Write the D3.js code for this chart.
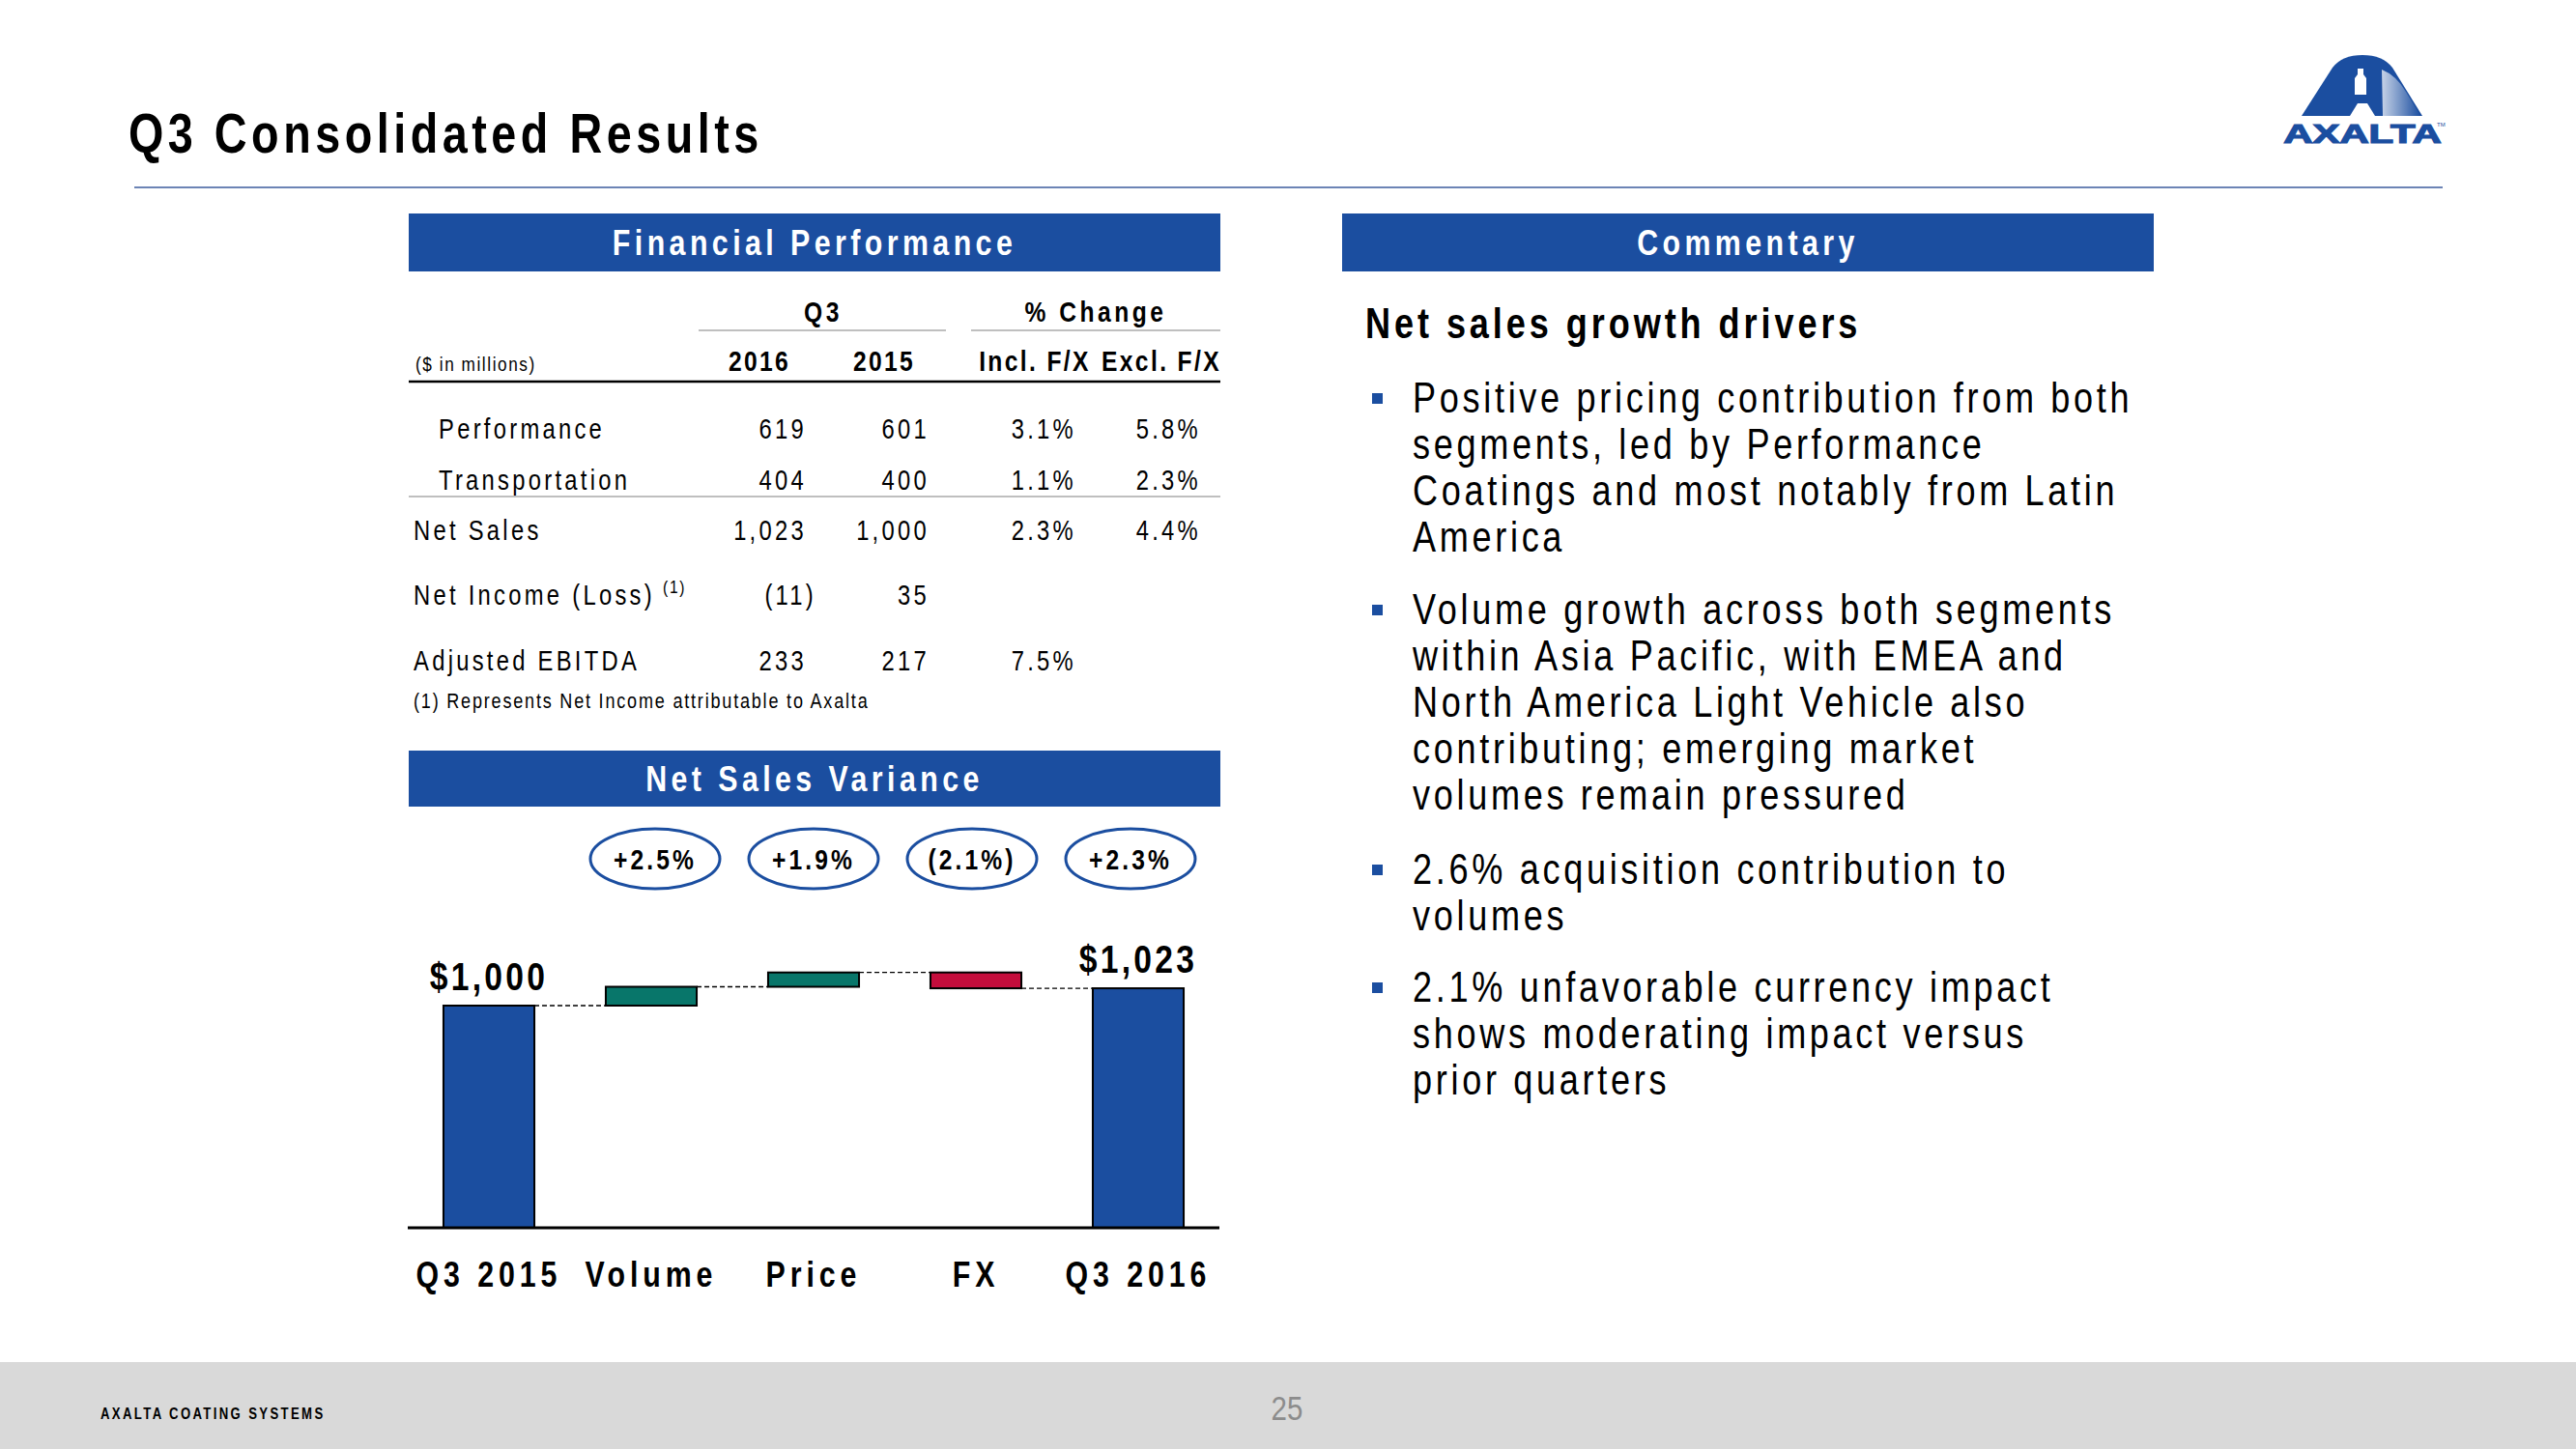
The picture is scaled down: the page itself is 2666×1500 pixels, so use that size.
<!DOCTYPE html>
<html>
<head>
<meta charset="utf-8">
<script src="https://cdn.jsdelivr.net/npm/d3@7"></script>
<style>
  html, body { margin: 0; padding: 0; background: #fff; }
  svg { display: block; }
</style>
</head>
<body>
<svg id="slide" width="2666" height="1500"></svg>
<script>
// ---------------- DATA ----------------
const slideTitle = "Q3 Consolidated Results";
const footerLeft = "AXALTA COATING SYSTEMS";
const pageNumber = "25";

const finHeader = "Financial Performance";
const groupHeaders = ["Q3", "% Change"];
const unitsLabel = "($ in millions)";
const tableColumns = ["2016", "2015", "Incl. F/X", "Excl. F/X"];
const rowLabels = ["Performance", "Transportation", "Net Sales", "Net Income (Loss)", "Adjusted EBITDA"];
const rowIndent = [true, true, false, false, false];
const rowNote = ["", "", "", "(1)", ""];
const valQ3_2016 = ["619", "404", "1,023", "(11)", "233"];
const valQ3_2015 = ["601", "400", "1,000", "35", "217"];
const chgInclFX = ["3.1%", "1.1%", "2.3%", "", "7.5%"];
const chgExclFX = ["5.8%", "2.3%", "4.4%", "", ""];
const footnote = "(1) Represents Net Income attributable to Axalta";

const varianceHeader = "Net Sales Variance";
const wfCategories = ["Q3 2015", "Volume", "Price", "FX", "Q3 2016"];
const wfValues = [1000, 25, 19, -21, 1023];
const wfKinds = ["total", "delta", "delta", "delta", "total"];
const wfPctLabels = ["", "+2.5%", "+1.9%", "(2.1%)", "+2.3%"];
const wfTotalLabels = ["$1,000", "", "", "", "$1,023"];

const commentaryHeader = "Commentary";
const commentarySub = "Net sales growth drivers";
const bullets = [
  ["Positive pricing contribution from both", "segments, led by Performance", "Coatings and most notably from Latin", "America"],
  ["Volume growth across both segments", "within Asia Pacific, with EMEA and", "North America Light Vehicle also", "contributing; emerging market", "volumes remain pressured"],
  ["2.6% acquisition contribution to", "volumes"],
  ["2.1% unfavorable currency impact", "shows moderating impact versus", "prior quarters"]
];

// ---------------- STYLE ----------------
const FONT = "'Liberation Sans',Arial,sans-serif";
const NARROW = 0.82;
const BLUE = "#1b4ea0";
const TEAL = "#08766a";
const RED = "#c40d3c";

const svg = d3.select("#slide");

// narrow text helper (Arial-Narrow look via horizontal scaling)
function ntext(parent, x, y, str, o = {}) {
  const t = parent.append("text")
    .attr("transform", `translate(${x},${y}) scale(${o.sx || NARROW},1)`)
    .attr("font-family", FONT)
    .attr("font-size", o.size || 28)
    .attr("font-weight", o.weight || "normal")
    .attr("letter-spacing", o.ls || 0)
    .attr("text-anchor", o.anchor || "start")
    .attr("fill", o.fill || "#000")
    .text(str);
  return t;
}

// ---------------- TITLE & HEADER ----------------
ntext(svg, 133, 158, slideTitle, { size: 57, weight: "bold", ls: 5.5 });

svg.append("line").attr("x1", 139).attr("x2", 2528).attr("y1", 194).attr("y2", 194)
  .attr("stroke", "#3b5b9c").attr("stroke-width", 1.5);

// Logo
const logo = svg.append("g");
const dg = svg.append("defs").append("linearGradient").attr("id", "shine").attr("x1", "0").attr("x2", "1").attr("y1", "0").attr("y2", "0");
dg.append("stop").attr("offset", "0").attr("stop-color", "#ffffff").attr("stop-opacity", 0.75);
dg.append("stop").attr("offset", "1").attr("stop-color", "#ffffff").attr("stop-opacity", 0);
logo.append("path")
  .attr("d", "M2382,120 L2414,70 Q2424,57 2445,57 Q2466,57 2476,70 L2507,120 Z")
  .attr("fill", BLUE);
logo.append("path")
  .attr("d", "M2465,72 Q2480,78 2490,95 L2505,120 L2466,120 Z")
  .attr("fill", "url(#shine)");
logo.append("path")
  .attr("d", "M2437,98 L2437,81 L2440,77 L2440,71 L2446,71 L2446,77 L2449,81 L2449,98 Z")
  .attr("fill", "#fff");
logo.append("path")
  .attr("d", "M2432,120 L2440,107 L2450,107 L2458,120 Z")
  .attr("fill", "#fff");
logo.append("text")
  .attr("transform", "translate(2445,148) scale(1.55,1)")
  .attr("text-anchor", "middle")
  .attr("font-family", FONT).attr("font-weight", "bold")
  .attr("font-size", 27).attr("fill", BLUE).attr("stroke", BLUE).attr("stroke-width", 1.2)
  .text("AXALTA");
logo.append("text").attr("x", 2522).attr("y", 131).attr("font-family", FONT)
  .attr("font-size", 6).attr("fill", BLUE).text("TM");

// Section header bars
function headerBar(x, y, w, h, label) {
  svg.append("rect").attr("x", x).attr("y", y).attr("width", w).attr("height", h).attr("fill", BLUE);
  ntext(svg, x + w / 2, y + h / 2 + 13, label, { size: 37, weight: "bold", ls: 5.4, anchor: "middle", fill: "#fff" });
}
headerBar(423, 221, 840, 60, finHeader);
headerBar(423, 777, 840, 58, varianceHeader);
headerBar(1389, 221, 840, 60, commentaryHeader);

// ---------------- TABLE ----------------
const tbl = svg.append("g");
const colRight = [835, 962, 1114, 1243];
const colCenter = [786, 915, 1071, 1202];
const rowY = [454, 507, 559, 626, 694];

ntext(tbl, 852, 333, groupHeaders[0], { size: 30, weight: "bold", ls: 4.5, anchor: "middle" });
ntext(tbl, 1134, 333, groupHeaders[1], { size: 30, weight: "bold", ls: 4.3, anchor: "middle" });
tbl.append("line").attr("x1", 723).attr("x2", 979).attr("y1", 342).attr("y2", 342).attr("stroke", "#bfbfbf").attr("stroke-width", 2);
tbl.append("line").attr("x1", 1005).attr("x2", 1263).attr("y1", 342).attr("y2", 342).attr("stroke", "#bfbfbf").attr("stroke-width", 2);

ntext(tbl, 430, 384, unitsLabel, { size: 21, ls: 1.9 });
tableColumns.forEach((c, i) => {
  ntext(tbl, colCenter[i], 384, c, { size: 30, weight: "bold", ls: 2.9, anchor: "middle" });
});
tbl.append("line").attr("x1", 423).attr("x2", 1263).attr("y1", 395).attr("y2", 395).attr("stroke", "#000").attr("stroke-width", 2.5);
tbl.append("line").attr("x1", 423).attr("x2", 1263).attr("y1", 514).attr("y2", 514).attr("stroke", "#bfbfbf").attr("stroke-width", 2);

const rowsData = rowLabels.map((l, i) => ({ label: l, indent: rowIndent[i], note: rowNote[i],
  vals: [valQ3_2016[i], valQ3_2015[i], chgInclFX[i], chgExclFX[i]], y: rowY[i] }));

rowsData.forEach(r => {
  const t = ntext(tbl, r.indent ? 454 : 428, r.y, r.label, { size: 29, ls: 4 });
  if (r.note) {
    t.append("tspan").attr("dx", 10).attr("dy", -12).attr("font-size", 19).attr("letter-spacing", 2).text(r.note);
  }
  r.vals.forEach((v, j) => {
    if (!v) return;
    const hang = v.endsWith(")") ? 10 : 0;
    ntext(tbl, colRight[j] + hang, r.y, v, { size: 29, ls: 4, anchor: "end" });
  });
});
ntext(tbl, 428, 733, footnote, { size: 22, ls: 2.2 });

// ---------------- WATERFALL ----------------
const chart = svg.append("g");
const x = d3.scaleBand().domain(wfCategories).range([422, 1262]).paddingInner(0.44).paddingOuter(0.22);
const xPct = d3.scaleBand().domain(wfCategories).range([432, 1252]);
const y = d3.scaleLinear().domain([705, 1000]).range([1271, 1041]);

let running = 0;
const wf = wfCategories.map((c, i) => {
  let y0, y1;
  if (wfKinds[i] === "total") { y0 = y.domain()[0]; y1 = wfValues[i]; running = wfValues[i]; }
  else { y0 = running; y1 = running + wfValues[i]; running = y1; }
  return { cat: c, y0, y1, kind: wfKinds[i], v: wfValues[i], pct: wfPctLabels[i], total: wfTotalLabels[i] };
});

// connectors
wf.forEach((d, i) => {
  if (i === wf.length - 1) return;
  const level = d.y1;
  chart.append("line")
    .attr("x1", x(d.cat) + x.bandwidth()).attr("x2", x(wf[i + 1].cat))
    .attr("y1", y(level)).attr("y2", y(level))
    .attr("stroke", "#000").attr("stroke-width", 1.3).attr("stroke-dasharray", "5,3");
});

chart.selectAll("rect.bar").data(wf).join("rect").attr("class", "bar")
  .attr("x", d => x(d.cat)).attr("width", x.bandwidth())
  .attr("y", d => y(Math.max(d.y0, d.y1)))
  .attr("height", d => Math.abs(y(d.y0) - y(d.y1)))
  .attr("fill", d => d.kind === "total" ? BLUE : (d.v >= 0 ? TEAL : RED))
  .attr("stroke", "#000").attr("stroke-width", 2);

// axis baseline + category labels
const xAxis = d3.axisBottom(x).tickSize(0).tickPadding(0);
const ax = chart.append("g").attr("transform", `translate(0,${y(y.domain()[0])})`).call(xAxis);
ax.select(".domain").attr("d", "M422,0H1262").attr("stroke", "#000").attr("stroke-width", 3);
ax.selectAll(".tick text")
  .attr("y", 0).attr("dy", 0)
  .attr("transform", `translate(0,61) scale(${NARROW},1)`)
  .attr("font-family", FONT).attr("font-weight", "bold")
  .attr("font-size", 37).attr("letter-spacing", 6.0).attr("fill", "#000");

// total labels
wf.filter(d => d.total).forEach(d => {
  ntext(chart, x(d.cat) + x.bandwidth() / 2, y(d.y1) - 16, d.total,
    { size: 41, weight: "bold", ls: 4.0, anchor: "middle" });
});

// pct ellipses
wf.filter(d => d.pct).forEach(d => {
  const g = chart.append("g").attr("transform", `translate(${xPct(d.cat) + xPct.bandwidth() / 2},889)`);
  g.append("ellipse").attr("rx", 67).attr("ry", 31).attr("fill", "#fff").attr("stroke", BLUE).attr("stroke-width", 3);
  ntext(g, 0, 11, d.pct, { size: 30, weight: "bold", ls: 3.8, anchor: "middle" });
});

// ---------------- COMMENTARY ----------------
const cm = svg.append("g");
ntext(cm, 1413, 350, commentarySub, { size: 44, weight: "bold", ls: 4.8 });

const bulletStart = [427, 646, 915, 1037];
const lineH = 48;
bullets.forEach((lines, i) => {
  cm.append("rect").attr("x", 1420).attr("y", bulletStart[i] - 20).attr("width", 11).attr("height", 11).attr("fill", BLUE);
  lines.forEach((ln, k) => {
    ntext(cm, 1462, bulletStart[i] + k * lineH, ln, { size: 44, ls: 4.5 });
  });
});

// ---------------- FOOTER ----------------
svg.append("rect").attr("x", 0).attr("y", 1410).attr("width", 2666).attr("height", 90).attr("fill", "#d9d9d9");
ntext(svg, 104, 1469, footerLeft, { size: 16, weight: "bold", ls: 2.9 });
ntext(svg, 1332, 1470, pageNumber, { size: 36, anchor: "middle", fill: "#8c8c8c" });
</script>
</body>
</html>
